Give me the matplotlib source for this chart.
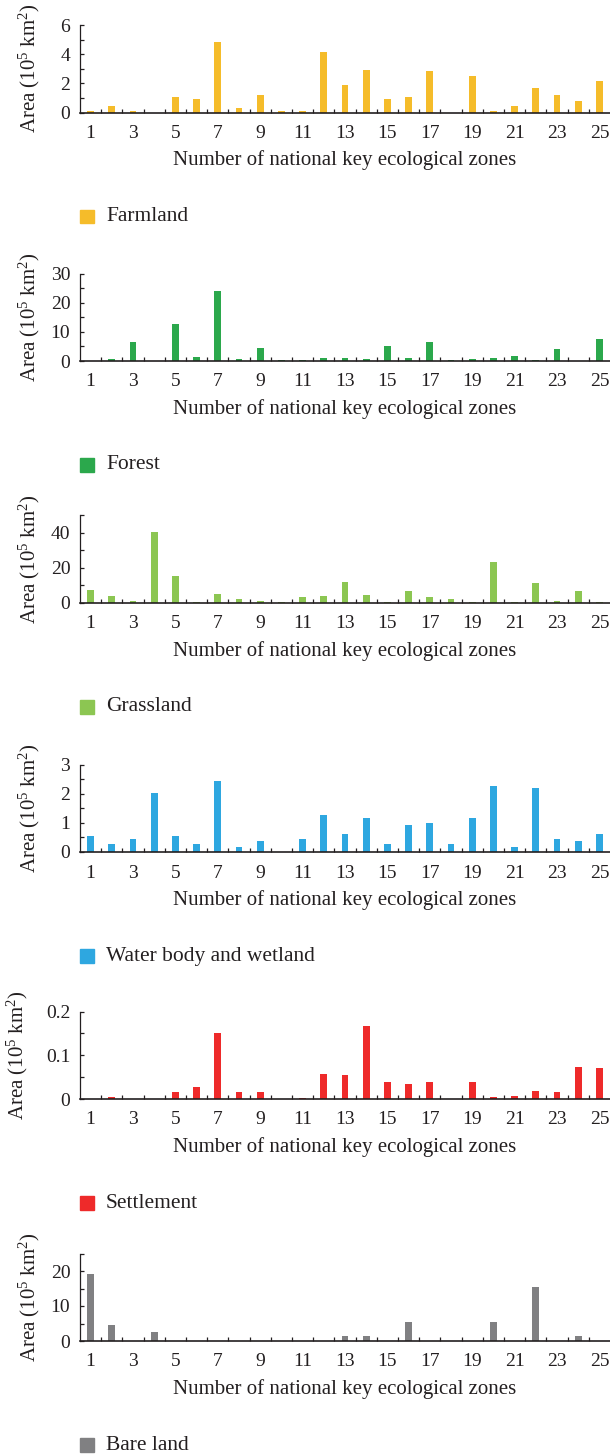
import numpy as np
import matplotlib
matplotlib.use("Agg")
import matplotlib.pyplot as plt
from matplotlib.patches import Rectangle
from matplotlib.ticker import MultipleLocator, FixedLocator, FormatStrFormatter

plt.rcParams['font.family'] = ['Liberation Serif', 'DejaVu Serif']
plt.rcParams['mathtext.default'] = 'regular'
plt.rcParams['text.color'] = '#231F20'

#%% area of each land type in the 25 national key ecological zones (10^5 km^2)

zones = np.arange(1, 26)

farmland = [0.1, 0.45, 0.1, 0, 1.07, 0.94, 4.85, 0.32, 1.21, 0.1,
            0.1, 4.16, 1.9, 2.93, 0.94, 1.07, 2.86, 0, 2.51, 0.08,
            0.46, 1.69, 1.21, 0.8, 2.17]
forest = [0, 0.7, 6.55, 0, 12.76, 1.38, 24.1, 0.7, 4.48, 0.35,
          0.35, 1.03, 1.03, 0.7, 5.17, 1.03, 6.55, 0.35, 0.7, 1.03,
          1.72, 0.35, 4.14, 0, 7.6]
grassland = [7.2, 3.8, 0.95, 40.4, 15.2, 0.4, 4.95, 2.1, 0.95, 0.4,
             3.2, 3.8, 11.8, 4.4, 0.4, 6.7, 3.2, 2.1, 0.4, 23.2,
             0.4, 11.2, 0.95, 6.7, 0.4]
water = [0.56, 0.29, 0.46, 2.04, 0.56, 0.29, 2.42, 0.18, 0.39, 0,
         0.46, 1.28, 0.63, 1.18, 0.29, 0.94, 1.01, 0.29, 1.15, 2.28,
         0.18, 2.18, 0.46, 0.39, 0.63]
settlement = [0.001, 0.005, 0.001, 0.001, 0.015, 0.028, 0.150, 0.015, 0.015, 0.001,
              0.003, 0.058, 0.056, 0.166, 0.038, 0.035, 0.038, 0.001, 0.038, 0.005,
              0.008, 0.019, 0.015, 0.074, 0.070]
bare = [19.05, 4.55, 0, 2.56, 0, 0, 0, 0, 0, 0,
        0, 0, 1.42, 1.42, 0, 5.4, 0, 0, 0, 5.4,
        0, 15.36, 0, 1.42, 0.1]

names = ["Farmland", "Forest", "Grassland", "Water body and wetland", "Settlement", "Bare land"]
series = [farmland, forest, grassland, water, settlement, bare]
colors = ["#F5BC2A", "#2BA84C", "#8CC652", "#2EA7E0", "#EE2A2A", "#808082"]
ymax = [6, 30, 50, 3, 0.2, 25]
ystep = [2, 10, 20, 1, 0.1, 10]

#%% plot

W, H = 610, 1454
fig = plt.figure(figsize=(W / 100, H / 100), dpi=100)
ink = '#231F20'

axis_bottom = [112.5, 361, 603, 852, 1099, 1341]
axis_h = 87.5

for i in range(6):
    ax = fig.add_axes([80 / W, (H - axis_bottom[i]) / H, 530 / W, axis_h / H])
    ax.bar(zones, series[i], width=0.33, color=colors[i])
    ax.set_xlim(0.5, 25.5)
    ax.set_ylim(0, ymax[i])

    for side in ['top', 'right']:
        ax.spines[side].set_visible(False)
    ax.spines['bottom'].set_linewidth(1.2)
    ax.spines['left'].set_linewidth(0.9)
    ax.spines['bottom'].set_color(ink)
    ax.spines['left'].set_color(ink)

    # labels at odd zones, tick marks on zone boundaries
    ax.xaxis.set_major_locator(FixedLocator(zones[::2]))
    ax.xaxis.set_minor_locator(FixedLocator(np.arange(1.5, 25.5, 1)))
    ax.tick_params(axis='x', which='major', length=0, pad=9, labelsize=14, labelcolor=ink)
    ax.tick_params(axis='x', which='minor', direction='in', length=3, width=0.9, color=ink)

    ax.yaxis.set_major_locator(MultipleLocator(ystep[i]))
    ax.yaxis.set_minor_locator(MultipleLocator(ystep[i] / 2))
    ax.yaxis.set_major_formatter(FormatStrFormatter('%g'))
    ax.tick_params(axis='y', which='both', direction='in', length=3, width=0.9, color=ink,
                   pad=7, labelsize=14, labelcolor=ink)

    ax.set_xlabel("Number of national key ecological zones", fontsize=15, color=ink)
    ax.xaxis.set_label_coords(0.5, -0.43)
    ax.set_ylabel("Area (10$^5$ km$^2$)", fontsize=15, color=ink)
    ax.yaxis.set_label_coords(-0.095 if ymax[i] < 1 else -0.072, 0.5)

    # legend key below each panel
    yc = H - (axis_bottom[i] + 104)
    fig.patches.append(Rectangle((80 / W, (yc - 6.5) / H), 13.5 / W, 13.5 / H,
                                 transform=fig.transFigure, color=colors[i], figure=fig))
    fig.text(106 / W, yc / H, names[i], fontsize=15.5, color=ink, va='center', ha='left')

fig.savefig("out.png", dpi=100)
